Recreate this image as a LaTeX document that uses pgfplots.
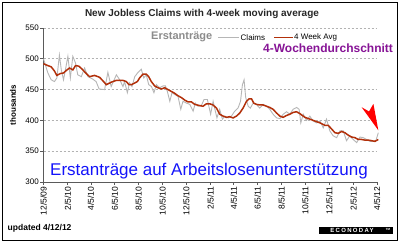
\documentclass[border=0pt]{standalone}
\usepackage{pgfplots}
\pgfplotsset{compat=1.18}
\usepackage{fontspec}
\setmainfont{Liberation Sans}
\newfontfamily\logofont[LetterSpace=22]{Liberation Sans}
\definecolor{claimgray}{RGB}{182,182,182}
\definecolor{avgred}{RGB}{178,48,10}
\definecolor{txtgray}{RGB}{140,140,140}
\definecolor{purp}{RGB}{135,20,150}
\definecolor{bigblue}{RGB}{20,20,250}
\definecolor{axgray}{RGB}{90,90,90}

\pgfplotstableread{
w v
0.0 500
1.6 477
2.8 466
4.0 463
4.9 469
5.8 506
6.5 482
7.3 466
8.0 482
8.9 504
9.8 469
10.7 504
11.7 493
12.5 474
13.8 471
15.0 485
16.2 471
18.0 467
19.2 463
20.3 451
22.3 450
23.5 478
24.7 455
26.6 474
27.8 466
29.0 455
29.6 463
30.6 445
31.4 461
32.3 455
33.3 471
34.5 478
35.7 483
36.6 469
37.5 474
38.4 458
39.4 455
40.3 445
41.2 458
42.4 453
43.6 456
44.5 456
45.2 447
46.1 431
46.9 445
47.9 442
49.1 439
50.1 418
50.9 431
52.2 428
53.4 426
54.6 415
55.4 428
56.4 423
57.6 424
58.6 434
59.8 434
61.0 410
61.9 431
63.3 404
64.3 418
65.3 402
66.2 407
67.4 404
68.6 407
69.8 415
71.0 420
71.9 431
72.6 458
73.2 466
73.8 437
74.7 423
75.5 420
76.5 428
77.7 426
78.9 420
80.2 426
81.4 423
82.6 418
83.8 410
85.1 404
86.3 403
87.5 410
88.7 414
89.9 410
91.1 418
92.4 421
93.3 418
93.9 396
94.8 410
96.0 400
97.2 407
98.4 399
99.7 396
100.9 399
102.1 388
103.3 402
104.5 383
105.7 375
107.0 372
108.2 383
109.4 383
110.6 367
111.8 375
113.0 369
114.3 364
115.5 373
116.7 372
117.9 369
119.2 366
120.4 366
121.3 367
122.2 380
}\claims

\pgfplotstableread{
w v
0 492
1.57 489
2.81 487
4.02 480
4.86 473
6.10 476
7.31 477
8.30 481
9.50 485
10.71 482
11.70 489
12.90 488
14.14 483
15.61 476
16.81 471
18.64 473
20.47 470
21.93 463
22.92 458
24.74 462
26.57 465
28.98 465
30.23 463
31.18 458
32.05 458
33.00 460
34.25 463
35.09 469
36.29 475
37.54 475
38.38 471
39.36 463
40.57 456
41.78 453
43.02 451
44.23 453
45.43 450
46.67 447
47.88 444
49.09 440
50.33 437
51.54 433
52.74 430
53.98 430
55.19 426
57.02 424
58.22 423
59.47 427
60.67 427
61.88 425
63.12 420
64.33 410
65.53 407
66.78 405
67.98 406
69.19 404
70.43 407
71.64 412
72.84 420
74.09 431
75.04 435
75.91 435
76.75 428
77.74 426
78.95 425
80.15 425
81.40 423
82.60 421
83.81 418
85.05 412
86.26 407
87.46 405
88.71 408
89.91 410
91.12 413
92.36 414
93.57 411
95.39 405
97.22 402
99.05 399
100.88 396
102.71 392
103.91 392
105.15 386
106.36 380
107.57 379
108.81 382
110.01 380
111.22 376
112.46 373
113.67 372
114.88 369
116.12 369
117.32 368
118.53 368
119.77 367
120.98 366
122.19 369
}\avg

\begin{document}
\begin{tikzpicture}[x=1pt,y=1pt]
\fill[white] (0,0) rectangle (400,243);
\draw[black, line width=1.6pt] (2.5,2.5) rectangle (397.5,240.5);
\begin{axis}[
  at={(43.5pt,61pt)}, anchor=south west,
  scale only axis, width=333.5pt, height=154pt,
  xmin=0, xmax=121.714, ymin=300, ymax=550,
  axis x line*=bottom, axis y line*=left,
  axis line style={draw=axgray, line width=0.8pt},
  ytick={300,350,400,450,500,550},
  ymajorgrids,
  grid style={draw=black!30, line width=0.6pt, dash pattern=on 2pt off 2pt},
  xtick={0,8.857,17.286,26,34.714,43.429,52.143,61,69.429,78.143,86.857,95.571,104.286,113.143,121.714},
  xticklabels={12/5/09,2/5/10,4/5/10,6/5/10,8/5/10,10/5/10,12/5/10,2/5/11,4/5/11,6/5/11,8/5/11,10/5/11,12/5/11,2/5/12,4/5/12},
  x tick label style={rotate=90, anchor=east, font=\fontsize{8.5}{10}\selectfont, inner sep=1.5pt},
  y tick label style={font=\fontsize{8}{9}\selectfont, inner sep=1.5pt},
  tick align=outside, major tick length=3pt,
  tick style={draw=axgray, line width=0.6pt},
  ylabel={thousands},
  ylabel style={font=\bfseries\fontsize{8}{9}\selectfont, at={(axis description cs:-0.0915,0.5)}, anchor=center},
  clip=false,
  /pgf/number format/assume math mode=true,
]
\addplot[color=claimgray, line width=0.9pt] table[x=w,y=v] {\claims};
\addplot[color=avgred, line width=1.5pt] table[x=w,y=v] {\avg};
\fill[red] (axis cs:116.1,421.4) -- (axis cs:118.8,414.5) -- (axis cs:120.4,426.9) -- (axis cs:122.2,383.9) -- cycle;
\end{axis}
% title and annotations
\node[font=\bfseries\fontsize{10}{12}\selectfont, text=black!85] at (202,229) {New Jobless Claims with 4-week moving average};
\node[anchor=west, inner sep=0, font=\bfseries\fontsize{11}{13}\selectfont, text=txtgray] at (151,206) {Erstanträge};
\draw[claimgray, line width=1pt] (218,205.5) -- (239,205.5);
\node[anchor=west, inner sep=0, font=\fontsize{8}{9}\selectfont] at (240.5,205.5) {Claims};
\draw[avgred, line width=1.4pt] (274,205.5) -- (293,205.5);
\node[anchor=west, inner sep=0, font=\fontsize{8}{9}\selectfont] at (294,205.5) {4 Week Avg};
\node[anchor=west, inner sep=0, font=\bfseries\fontsize{12}{14}\selectfont, text=purp] at (263,195) {4-Wochendurchschnitt};
\node[inner sep=0, font=\fontsize{17}{20}\selectfont, text=bigblue] at (209,71.5) {Erstanträge auf Arbeitslosenunterstützung};
\node[anchor=west, inner sep=0, font=\bfseries\fontsize{8.5}{10}\selectfont] at (7.5,15) {updated 4/12/12};
\fill[black] (319.3,8.7) rectangle (393.3,16.3);
\node[inner sep=0, text=white, font=\logofont\bfseries\fontsize{6}{7}\selectfont] at (352,12.5) {ECONODAY};
\node[inner sep=0, text=white, font=\bfseries\fontsize{3}{3}\selectfont] at (388,13.5) {TM};
\pgfresetboundingbox
\useasboundingbox (0,0) rectangle (400,243);
\end{tikzpicture}
\end{document}
